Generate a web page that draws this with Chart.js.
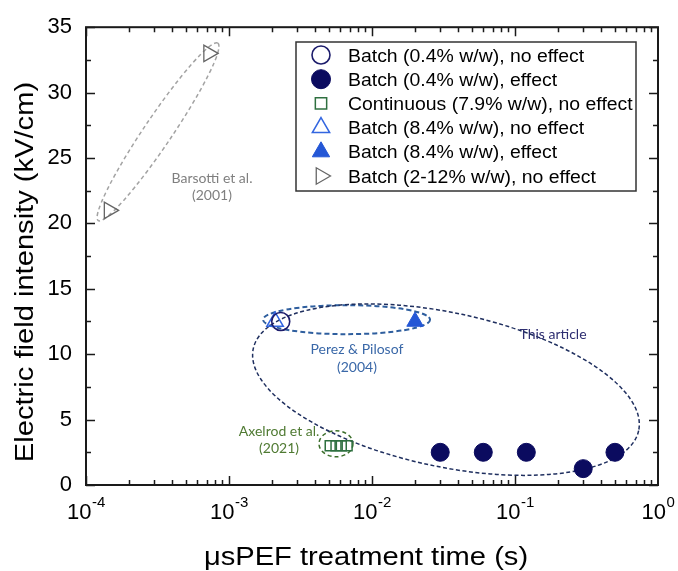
<!DOCTYPE html>
<html><head><meta charset="utf-8">
<script src="https://cdn.jsdelivr.net/npm/chart.js@4/dist/chart.umd.min.js"></script>
<style>html,body{margin:0;padding:0;background:#fff;}#wrap{width:678px;height:571px;position:relative;}</style>
</head><body><div id="wrap"><canvas id="c" width="678" height="571"></canvas></div>
<script>
// ---- data ----
const xTickValues = [1e-4, 1e-3, 1e-2, 1e-1, 1];
const xTickExponents = ['-4', '-3', '-2', '-1', '0'];
const yTickValues = [0, 5, 10, 15, 20, 25, 30, 35];
const seriesLabels = [
  'Batch (0.4% w/w), no effect',
  'Batch (0.4% w/w), effect',
  'Continuous (7.9% w/w), no effect',
  'Batch (8.4% w/w), no effect',
  'Batch (8.4% w/w), effect',
  'Batch (2-12% w/w), no effect'
];
const batch04NoEffectX = [0.0023];
const batch04NoEffectY = [12.5];
const batch04EffectX = [0.03, 0.06, 0.12, 0.3, 0.5];
const batch04EffectY = [2.5, 2.5, 2.5, 1.25, 2.5];
const continuousX = [0.0051, 0.0056, 0.0061, 0.0067];
const continuousY = [3, 3, 3, 3];
const batch84NoEffectX = [0.0021];
const batch84NoEffectY = [12.5];
const batch84EffectX = [0.02];
const batch84EffectY = [12.5];
const batch212X = [0.000145, 0.00072];
const batch212Y = [21, 33];
const studyLabels = ['Barsotti et al.|(2001)', 'Perez & Pilosof|(2004)', 'Axelrod et al.|(2021)', 'This article'];
const xTitle = 'μsPEF treatment time (s)';
const yTitle = 'Electric field intensity (kV/cm)';

// ---- annotation geometry (centre in data units, radii in px) ----
const ellipses = [
  {cx: 3.19e-4, cy: 27.0, rx: 107, ry: 14, rot: -56, color: '#a3a3a3', dash: [4, 3], w: 1.5},
  {cx: 6.64e-3, cy: 12.64, rx: 83.5, ry: 14.5, rot: 0, color: '#2e5e9e', dash: [5, 3], w: 2},
  {cx: 5.6e-3, cy: 3.15, rx: 17, ry: 13, rot: 0, color: '#3b6e2a', dash: [4, 3], w: 1.5},
  {cx: 0.0329, cy: 7.29, rx: 197, ry: 77, rot: 12, color: '#1f2f5f', dash: [4, 2.5], w: 1.5}
];
const textNotes = [
  {x: 7.6e-4, y: 23.46, color: '#7f7f7f'},
  {x: 7.85e-3, y: 10.33, color: '#3a68a8'},
  {x: 2.24e-3, y: 4.1, color: '#4f7a32'},
  {x: 0.1845, y: 11.54, color: '#2d2d70'}
];

function pts(xs, ys) { return xs.map((x, i) => ({x: x, y: ys[i]})); }

const datasets = [
  {label: seriesLabels[0], data: pts(batch04NoEffectX, batch04NoEffectY), pointStyle: 'circle', pointRadius: 9,
   backgroundColor: 'rgba(0,0,0,0)', borderColor: '#1c1c6b', borderWidth: 1.6, legendRadius: 9},
  {label: seriesLabels[1], data: pts(batch04EffectX, batch04EffectY), pointStyle: 'circle', pointRadius: 9,
   backgroundColor: '#0b0b5f', borderColor: '#0b0b5f', borderWidth: 1, legendRadius: 9.5},
  {label: seriesLabels[2], data: pts(continuousX, continuousY), pointStyle: 'rect', pointRadius: 7,
   backgroundColor: 'rgba(0,0,0,0)', borderColor: '#2f7040', borderWidth: 1.5, legendRadius: 8},
  {label: seriesLabels[3], data: pts(batch84NoEffectX, batch84NoEffectY), pointStyle: 'triangle', pointRadius: 9.5,
   backgroundColor: 'rgba(0,0,0,0)', borderColor: '#3366e0', borderWidth: 1.5, legendRadius: 10},
  {label: seriesLabels[4], data: pts(batch84EffectX, batch84EffectY), pointStyle: 'triangle', pointRadius: 9.5,
   backgroundColor: '#2457d6', borderColor: '#2457d6', borderWidth: 1, legendRadius: 10},
  {label: seriesLabels[5], data: pts(batch212X, batch212Y), pointStyle: 'triangle', pointRadius: 9.5, pointRotation: 90,
   backgroundColor: 'rgba(0,0,0,0)', borderColor: '#666666', borderWidth: 1.3, legendRadius: 9.5}
];

const FONT = 'Arial, "Liberation Sans", sans-serif';

function stretchedText(ctx, text, x, y, sx, align) {
  ctx.save();
  ctx.translate(x, y);
  ctx.scale(sx, 1);
  ctx.textAlign = align;
  ctx.fillText(text, 0, 0);
  ctx.restore();
}

const framePlugin = {
  id: 'framePlugin',
  beforeDatasetsDraw(chart) {
    const ctx = chart.ctx, xs = chart.scales.x, ys = chart.scales.y;
    ctx.save();
    ellipses.forEach(e => {
      ctx.beginPath();
      ctx.setLineDash(e.dash);
      ctx.lineWidth = e.w;
      ctx.strokeStyle = e.color;
      ctx.ellipse(xs.getPixelForValue(e.cx), ys.getPixelForValue(e.cy), e.rx, e.ry, e.rot * Math.PI / 180, 0, 2 * Math.PI);
      ctx.stroke();
    });
    ctx.setLineDash([]);
    ctx.font = '14px Lato, "Open Sans", sans-serif';
    ctx.textAlign = 'center';
    ctx.textBaseline = 'middle';
    textNotes.forEach((t, i) => {
      const lines = studyLabels[i].split('|');
      const px = xs.getPixelForValue(t.x), py = ys.getPixelForValue(t.y);
      ctx.fillStyle = t.color;
      lines.forEach((ln, j) => ctx.fillText(ln, px, py + j * 17.5));
    });
    ctx.restore();
  },
  afterDraw(chart) {
    const ctx = chart.ctx, xs = chart.scales.x, ys = chart.scales.y;
    const {left, right, top, bottom} = chart.chartArea;
    ctx.save();
    // tick marks (inward, mirrored)
    ctx.strokeStyle = '#1a1a1a';
    ctx.lineWidth = 1.5;
    ctx.beginPath();
    for (let d = -4; d < 0; d++) {
      for (let m = 1; m <= 9; m++) {
        const v = m * Math.pow(10, d);
        const px = Math.round(xs.getPixelForValue(v)) + 0.5;
        const len = m === 1 ? 9 : 5;
        ctx.moveTo(px, bottom); ctx.lineTo(px, bottom - len);
        ctx.moveTo(px, top); ctx.lineTo(px, top + len);
      }
    }
    for (let v = 0; v <= 35; v += 2.5) {
      const py = Math.round(ys.getPixelForValue(v)) + 0.5;
      const len = v % 5 === 0 ? 9 : 5;
      ctx.moveTo(left, py); ctx.lineTo(left + len, py);
      ctx.moveTo(right, py); ctx.lineTo(right - len, py);
    }
    ctx.stroke();
    // frame
    ctx.lineWidth = 2;
    ctx.strokeRect(left, top, right - left, bottom - top);
    // x tick labels with superscripts
    ctx.fillStyle = '#000';
    ctx.textBaseline = 'alphabetic';
    ctx.textAlign = 'left';
    xTickValues.forEach((v, i) => {
      const px = xs.getPixelForValue(v);
      ctx.font = '22px ' + FONT;
      const wb = ctx.measureText('10').width;
      ctx.font = '15px ' + FONT;
      const we = ctx.measureText(xTickExponents[i]).width;
      const sx = px - (wb + we) / 2;
      ctx.font = '22px ' + FONT;
      ctx.fillText('10', sx, 519);
      ctx.font = '15px ' + FONT;
      ctx.fillText(xTickExponents[i], sx + wb + 0.5, 507);
    });
    // axis titles
    ctx.font = '26px ' + FONT;
    ctx.textBaseline = 'alphabetic';
    stretchedText(ctx, xTitle, 366, 565, 1.12, 'center');
    ctx.save();
    ctx.translate(33, 272);
    ctx.rotate(-Math.PI / 2);
    stretchedText(ctx, yTitle, 0, 0, 1.12, 'center');
    ctx.restore();
    // legend
    const lx = 296, ly = 42, lw = 340, lh = 149;
    ctx.fillStyle = '#fff';
    ctx.fillRect(lx, ly, lw, lh);
    ctx.strokeStyle = '#333';
    ctx.lineWidth = 1.5;
    ctx.strokeRect(lx, ly, lw, lh);
    chart.data.datasets.forEach((ds, i) => {
      const cy = 55 + i * 24.2;
      ctx.save();
      ctx.fillStyle = ds.backgroundColor;
      ctx.strokeStyle = ds.borderColor;
      ctx.lineWidth = ds.borderWidth;
      Chart.helpers.drawPoint(ctx, {pointStyle: ds.pointStyle, rotation: ds.pointRotation || 0,
        radius: ds.legendRadius, borderWidth: ds.borderWidth}, 321, cy);
      ctx.restore();
      ctx.fillStyle = '#000';
      ctx.font = '17.5px ' + FONT;
      ctx.textBaseline = 'alphabetic';
      stretchedText(ctx, ds.label, 348, cy + 6.5, 1.11, 'left');
    });
    ctx.restore();
  }
};

new Chart(document.getElementById('c'), {
  type: 'scatter',
  data: {datasets: datasets},
  options: {
    responsive: false,
    devicePixelRatio: 1,
    animation: false,
    events: [],
    layout: {padding: {left: 0, top: 24, right: 20, bottom: 0}},
    plugins: {legend: {display: false}, tooltip: {enabled: false}},
    scales: {
      x: {
        type: 'logarithmic', min: xTickValues[0], max: xTickValues[xTickValues.length - 1],
        grid: {display: false, drawTicks: false}, border: {display: false},
        ticks: {display: false},
        title: {display: false, text: xTitle},
        afterFit(s) { s.height = 86; }
      },
      y: {
        type: 'linear', min: yTickValues[0], max: yTickValues[yTickValues.length - 1],
        grid: {display: false, drawTicks: false}, border: {display: false},
        afterBuildTicks(s) { s.ticks = yTickValues.map(v => ({value: v})); },
        ticks: {color: '#000', padding: 14, font: {family: FONT, size: 22}},
        title: {display: false, text: yTitle},
        afterFit(s) { s.width = 86; }
      }
    }
  },
  plugins: [framePlugin]
});
</script>
</body></html>
